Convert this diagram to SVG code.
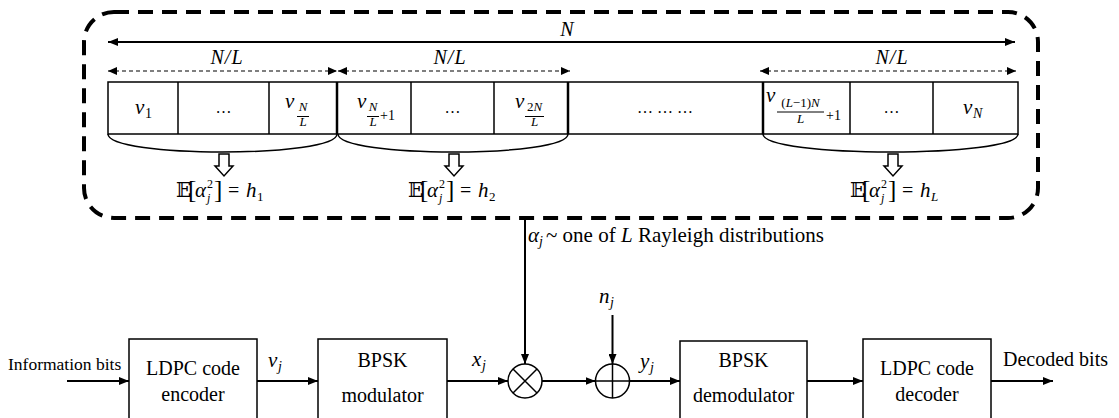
<svg xmlns="http://www.w3.org/2000/svg" width="1119" height="418" viewBox="0 0 1119 418" font-family="Liberation Serif, Times New Roman, serif">
<defs>
<style>
.m{font-style:italic}
.ln{stroke:#000;stroke-width:2;fill:none}
.cell{stroke:#000;stroke-width:1.5;fill:#fff}
.box{stroke:#000;stroke-width:1.5;fill:#fff}
.brace{stroke:#000;stroke-width:1.5;fill:none}
.dash{stroke:#000;stroke-width:1.2;fill:none;stroke-dasharray:4 3}
.hollow{stroke:#000;stroke-width:1.5;fill:#fff}
</style>
<marker id="ah" viewBox="0 0 10 8" refX="10" refY="4" markerWidth="10" markerHeight="8" markerUnits="userSpaceOnUse" orient="auto-start-reverse">
<path d="M0,0 L10,4 L0,8 Z" fill="#000"/>
</marker>
<marker id="ahs" viewBox="0 0 9 8" refX="9" refY="4" markerWidth="9" markerHeight="8" markerUnits="userSpaceOnUse" orient="auto-start-reverse">
<path d="M0,0 L9,4 L0,8 Z" fill="#000"/>
</marker>
<g id="ebase">
<text x="0" y="0" font-size="20" font-family="DejaVu Serif, DejaVu Sans, serif">𝔼</text>
<text x="12" y="1" font-size="25">[</text>
<text class="m" x="19" y="0" font-size="21">α</text>
<text x="31" y="-9" font-size="12">2</text>
<text class="m" x="31" y="5" font-size="12">j</text>
<text x="38" y="1" font-size="25">]</text>
<text x="52" y="0" font-size="20">=</text>
<text class="m" x="70" y="0" font-size="21">h</text>
</g>
<path id="hol" d="M-5,0 H5 V12 H9 L0,22 L-9,12 H-5 Z"/>
</defs>

<g id="segment-frame">
<rect x="84" y="12" width="954" height="206" rx="30" ry="30" fill="none" stroke="#000" stroke-width="4" stroke-dasharray="15 9"/>
</g>

<g id="dimension-N">
<line class="ln" x1="108" y1="42" x2="1015" y2="42" marker-start="url(#ah)" marker-end="url(#ah)"/>
<text class="m" x="567" y="36" font-size="20" text-anchor="middle">N</text>
</g>

<g id="dimension-NL">
<line class="dash" x1="108" y1="71" x2="337" y2="71" marker-start="url(#ahs)" marker-end="url(#ahs)"/>
<line class="dash" x1="338" y1="71" x2="570" y2="71" marker-start="url(#ahs)" marker-end="url(#ahs)"/>
<line class="dash" x1="760" y1="71" x2="1016" y2="71" marker-start="url(#ahs)" marker-end="url(#ahs)"/>
<text class="m" x="227" y="64" font-size="20" text-anchor="middle" letter-spacing="1">N/L</text>
<text class="m" x="450" y="64" font-size="20" text-anchor="middle" letter-spacing="1">N/L</text>
<text class="m" x="892" y="64" font-size="20" text-anchor="middle" letter-spacing="1">N/L</text>
</g>

<g id="codeword">
<rect class="cell" x="108" y="82" width="910" height="52"/>
<g stroke="#000" stroke-width="1.5">
<line x1="178" y1="82" x2="178" y2="134"/>
<line x1="269" y1="82" x2="269" y2="134"/>
<line x1="411" y1="82" x2="411" y2="134"/>
<line x1="494" y1="82" x2="494" y2="134"/>
<line x1="850" y1="82" x2="850" y2="134"/>
<line x1="933" y1="82" x2="933" y2="134"/>
</g>
<g stroke="#000" stroke-width="2.5">
<line x1="337" y1="82" x2="337" y2="134"/>
<line x1="568" y1="82" x2="568" y2="134"/>
<line x1="763" y1="82" x2="763" y2="134"/>
</g>
<text class="m" x="135" y="114" font-size="21">v</text>
<text x="145" y="118" font-size="14">1</text>
<text x="223.5" y="113" font-size="16" text-anchor="middle">…</text>
<text class="m" x="285" y="108" font-size="21">v</text>
<text class="m" x="303" y="111" font-size="13" text-anchor="middle">N</text>
<line x1="297" y1="116.5" x2="309" y2="116.5" stroke="#000" stroke-width="1"/>
<text class="m" x="303" y="126" font-size="13" text-anchor="middle">L</text>
<text class="m" x="357" y="108" font-size="21">v</text>
<text class="m" x="373" y="111" font-size="13" text-anchor="middle">N</text>
<line x1="367" y1="116.5" x2="379" y2="116.5" stroke="#000" stroke-width="1"/>
<text class="m" x="373" y="126" font-size="13" text-anchor="middle">L</text>
<text x="380" y="120" font-size="14">+1</text>
<text x="452.5" y="113" font-size="16" text-anchor="middle">…</text>
<text class="m" x="515" y="108" font-size="21">v</text>
<text x="534.5" y="111" font-size="13" text-anchor="middle">2<tspan font-style="italic">N</tspan></text>
<line x1="525" y1="116.5" x2="544" y2="116.5" stroke="#000" stroke-width="1"/>
<text class="m" x="534.5" y="126" font-size="13" text-anchor="middle">L</text>
<text x="665" y="113" font-size="16" text-anchor="middle">… … …</text>
<text class="m" x="766" y="102" font-size="21">v</text>
<text x="800.5" y="107" font-size="13" text-anchor="middle">(<tspan font-style="italic">L</tspan>−1)<tspan font-style="italic">N</tspan></text>
<line x1="777" y1="112" x2="824" y2="112" stroke="#000" stroke-width="1"/>
<text class="m" x="800.5" y="123" font-size="13" text-anchor="middle">L</text>
<text x="826" y="120" font-size="14">+1</text>
<text x="891.5" y="113" font-size="16" text-anchor="middle">…</text>
<text class="m" x="963" y="114" font-size="21">v</text>
<text class="m" x="973" y="118" font-size="14">N</text>
</g>

<g id="braces">
<path class="brace" d="M108,134 C108,158 337,158 337,134"/>
<path class="brace" d="M338,134 C338,158 568,158 568,134"/>
<path class="brace" d="M763,134 C763,158 1018,158 1018,134"/>
</g>

<g id="expectation-1">
<use href="#hol" class="hollow" x="224" y="154"/>
<use href="#ebase" x="176" y="197"/>
<text x="257" y="201" font-size="13">1</text>
</g>
<g id="expectation-2">
<use href="#hol" class="hollow" x="454" y="154"/>
<use href="#ebase" x="408" y="197"/>
<text x="489" y="201" font-size="13">2</text>
</g>
<g id="expectation-L">
<use href="#hol" class="hollow" x="893" y="154"/>
<use href="#ebase" x="850" y="197"/>
<text class="m" x="931" y="201" font-size="13">L</text>
</g>

<g id="connectors">
<line class="ln" x1="67" y1="381" x2="129" y2="381" marker-end="url(#ah)"/>
<line class="ln" x1="257" y1="381" x2="318" y2="381" marker-end="url(#ah)"/>
<line class="ln" x1="447" y1="381" x2="508" y2="381" marker-end="url(#ah)"/>
<line class="ln" x1="525" y1="218" x2="525" y2="364" marker-end="url(#ah)"/>
<line class="ln" x1="542" y1="381" x2="595.5" y2="381" marker-end="url(#ah)"/>
<line class="ln" x1="612.5" y1="315" x2="612.5" y2="364" marker-end="url(#ah)"/>
<line class="ln" x1="629.5" y1="381" x2="680" y2="381" marker-end="url(#ah)"/>
<line class="ln" x1="807" y1="381" x2="863" y2="381" marker-end="url(#ah)"/>
<line class="ln" x1="991" y1="381" x2="1053" y2="381" marker-end="url(#ah)"/>
</g>

<g id="labels">
<text x="8" y="370" font-size="17.5">Information bits</text>
<text class="m" x="268" y="367" font-size="21">v</text>
<text class="m" x="278" y="371" font-size="14">j</text>
<text class="m" x="472" y="366" font-size="21">x</text>
<text class="m" x="482" y="370" font-size="14">j</text>
<text class="m" x="599" y="303" font-size="21">n</text>
<text class="m" x="610" y="307" font-size="14">j</text>
<text class="m" x="640" y="368" font-size="21">y</text>
<text class="m" x="650" y="372" font-size="14">j</text>
<text class="m" x="528" y="242" font-size="21">α</text>
<text class="m" x="539" y="246" font-size="14">j</text>
<text x="546" y="242" font-size="21">~ one of <tspan font-style="italic">L</tspan> Rayleigh distributions</text>
<text x="1003" y="366" font-size="20">Decoded bits</text>
</g>

<g id="ldpc-encoder">
<rect class="box" x="129" y="339" width="128" height="90"/>
<text x="193" y="375" font-size="20" text-anchor="middle">LDPC code</text>
<text x="193" y="401" font-size="20" text-anchor="middle">encoder</text>
</g>
<g id="bpsk-modulator">
<rect class="box" x="318" y="339" width="129" height="90"/>
<text x="382.5" y="367" font-size="20" text-anchor="middle">BPSK</text>
<text x="382.5" y="402" font-size="20" text-anchor="middle">modulator</text>
</g>
<g id="multiplier">
<circle cx="525" cy="381" r="17" fill="#fff" stroke="#000" stroke-width="1.5"/>
<path d="M513,369 L537,393 M537,369 L513,393" stroke="#000" stroke-width="1.5"/>
</g>
<g id="adder">
<circle cx="612.5" cy="381" r="17" fill="#fff" stroke="#000" stroke-width="1.5"/>
<path d="M595.5,381 H629.5 M612.5,364 V398" stroke="#000" stroke-width="1.5"/>
</g>
<g id="bpsk-demodulator">
<rect class="box" x="680" y="341" width="127" height="90"/>
<text x="743.5" y="367" font-size="20" text-anchor="middle">BPSK</text>
<text x="743.5" y="402" font-size="20" text-anchor="middle">demodulator</text>
</g>
<g id="ldpc-decoder">
<rect class="box" x="863" y="339" width="128" height="90"/>
<text x="927" y="375" font-size="20" text-anchor="middle">LDPC code</text>
<text x="927" y="401" font-size="20" text-anchor="middle">decoder</text>
</g>
</svg>
